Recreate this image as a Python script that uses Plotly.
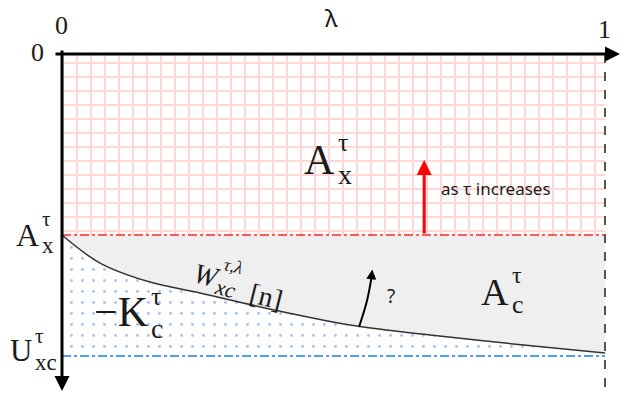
import plotly.graph_objects as go

# ---- data (lambda in [0,1], energy levels relative to 0) ----
lam_ends = [0.0, 1.0]
E_zero = 0.0
A_x = -1.0          # exchange energy level
U_xc = -1.669       # xc energy level
curve_lam = [0.0, 0.070, 0.162, 0.254, 0.40, 0.543, 0.678, 0.85, 1.0]
curve_W = [-1.0, -1.155, -1.260, -1.320, -1.420, -1.503, -1.552, -1.608, -1.652]

W, H = 627, 401
X0, XS = 62, 543     # pixel of lambda=0, pixels per unit lambda
Y0, YS = 54, 181     # pixel of E=0, pixels per unit energy

SERIF = "Liberation Serif"
SANS = "Noto Sans"
TXT = "#1a1a1a"

fig = go.Figure()

# red grid region (A_x)
fig.add_trace(go.Scatter(x=lam_ends, y=[E_zero, E_zero], mode="lines",
                         line=dict(width=0), showlegend=False, hoverinfo="skip"))
fig.add_trace(go.Scatter(x=lam_ends, y=[A_x, A_x], mode="lines", line=dict(width=0),
                         fill="tonexty", fillcolor="white",
                         fillpattern=dict(shape="+", fgcolor="#ffb0b0", size=14, solidity=0.28),
                         showlegend=False, hoverinfo="skip"))
# dotted region (-K_c)
fig.add_trace(go.Scatter(x=lam_ends, y=[U_xc, U_xc], mode="lines",
                         line=dict(width=0), showlegend=False, hoverinfo="skip"))
fig.add_trace(go.Scatter(x=curve_lam, y=curve_W, mode="lines", line=dict(width=0, shape="spline"),
                         fill="tonexty", fillcolor="white",
                         fillpattern=dict(shape=".", fgcolor="#4f7fd8", size=11, solidity=0.05),
                         showlegend=False, hoverinfo="skip"))
# gray region (A_c)
fig.add_trace(go.Scatter(x=lam_ends, y=[A_x, A_x], mode="lines",
                         line=dict(width=0), showlegend=False, hoverinfo="skip"))
fig.add_trace(go.Scatter(x=curve_lam, y=curve_W, mode="lines", line=dict(width=0, shape="spline"),
                         fill="tonexty", fillcolor="#efefef",
                         showlegend=False, hoverinfo="skip"))
# dash-dot levels
fig.add_trace(go.Scatter(x=lam_ends, y=[A_x, A_x], mode="lines",
                         line=dict(color="#ff2a2a", width=1.5, dash="dashdot"),
                         showlegend=False, hoverinfo="skip"))
fig.add_trace(go.Scatter(x=lam_ends, y=[U_xc, U_xc], mode="lines",
                         line=dict(color="#1f80dc", width=1.5, dash="dashdot"),
                         showlegend=False, hoverinfo="skip"))
# the W curve
fig.add_trace(go.Scatter(x=curve_lam, y=curve_W, mode="lines",
                         line=dict(color="#333333", width=1.5, shape="spline"),
                         showlegend=False, hoverinfo="skip"))
# right dashed boundary at lambda = 1
E_bottom = -(392 - Y0) / YS
fig.add_trace(go.Scatter(x=[1.0, 1.0], y=[E_zero, E_bottom], mode="lines",
                         line=dict(color="#555555", width=2, dash="dash"),
                         showlegend=False, hoverinfo="skip"))

# curved "?" arrow
q_lam = [0.547, 0.562, 0.571]
q_E = [-1.508, -1.359, -1.215]
fig.add_trace(go.Scatter(x=q_lam, y=q_E, mode="lines",
                         line=dict(color="black", width=2, shape="spline"),
                         showlegend=False, hoverinfo="skip"))

ann = []
def arrow(xh, yh, xt, yt, color, width, head=2, size=1.0):
    ann.append(dict(x=xh, y=yh, ax=xt, ay=yt, xref="x", yref="y", axref="x", ayref="y",
                    showarrow=True, arrowhead=head, arrowsize=size, arrowwidth=width,
                    arrowcolor=color, text="", standoff=0, startstandoff=0))

# axes
arrow(1 + (620 - 605) / XS, E_zero, -(8) / XS, E_zero, "black", 3, 2, 1.0)
arrow(0, -(391 - Y0) / YS, 0, (5) / YS, "black", 3, 2, 1.0)
# red arrow
arrow(0.667, -(160 - Y0) / YS, 0.667, A_x, "#ff0000", 3, 2, 1.0)
# head of the "?" arrow
arrow(0.5715, -1.19, 0.569, -1.26, "black", 2, 2, 1.0)

def P(px, py):
    return px / W, 1 - py / H

def label(px, py, text, size, font=SERIF, angle=0, color=TXT, xanchor="center", yanchor="middle"):
    x, y = P(px, py)
    ann.append(dict(x=x, y=y, xref="paper", yref="paper", text=text, showarrow=False,
                    xanchor=xanchor, yanchor=yanchor, textangle=angle, borderpad=0,
                    font=dict(family=font, size=size, color=color)))

def stacked(edge, by, base, bsize, sup, split, sub, ssize):
    label(edge, by, base, bsize, xanchor="right")
    label(edge + 1, split, sup, ssize, xanchor="left", yanchor="bottom")
    label(edge + 1, split, sub, ssize + 2, xanchor="left", yanchor="top")

# tick-like labels
label(331, 0, "λ", 24, SANS, yanchor="top")
label(61, 25, "0", 26)
label(604, 29, "1", 26)
label(37, 53, "0", 26)

# left axis labels
stacked(40, 235, "A", 32, "τ", 232, "x", 21)
stacked(33, 350, "U", 31, "τ", 349, "xc", 21)
# region labels
stacked(336, 160, "A", 42, "τ", 158, "x", 26)
stacked(149, 312, "−K", 42, "τ", 312, "c", 26)
stacked(510, 292, "A", 38, "τ", 289, "c", 24)

# W_xc^{tau,lambda}[n] rotated along the curve
ang = 14
label(207, 275, "<i>W</i>", 28, SERIF, ang)
label(233, 266, "<i>τ,λ</i>", 18, SERIF, ang)
label(225, 288, "<i>xc</i>", 22, SERIF, ang)
label(266, 296, "[n]", 28, SERIF, ang)

label(391, 296, "?", 19, SANS)
label(496, 188, "as τ increases", 17, SANS)

fig.update_layout(
    width=W, height=H, margin=dict(l=0, r=0, t=0, b=0),
    paper_bgcolor="white", plot_bgcolor="white",
    xaxis=dict(range=[-X0 / XS, (W - X0) / XS], visible=False, fixedrange=True),
    yaxis=dict(range=[-(H - Y0) / YS, Y0 / YS], visible=False, fixedrange=True),
    annotations=ann, showlegend=False,
)

fig.write_html("out.html")
